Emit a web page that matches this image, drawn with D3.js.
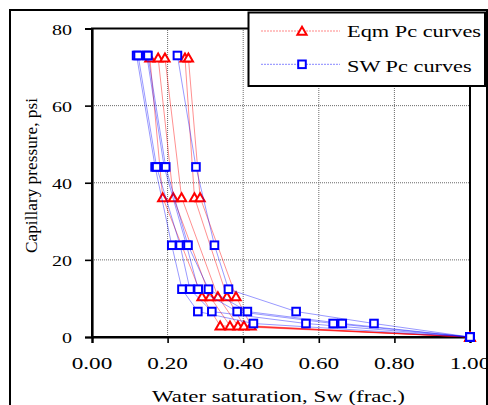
<!DOCTYPE html>
<html>
<head>
<meta charset="utf-8">
<script src="https://cdn.jsdelivr.net/npm/d3@7"></script>
<style>
  html, body { margin: 0; padding: 0; background: #fff; }
  svg { display: block; }
  text { font-family: "Liberation Serif", "Times New Roman", serif; fill: #000; }
</style>
</head>
<body>
<svg id="chart" width="488" height="405"></svg>
<script>
// ---- data ----
const xTicks = [0, 0.2, 0.4, 0.6, 0.8, 1.0];
const yTicks = [0, 20, 40, 60, 80];

// Equilibrium Pc curves (red triangles)
const eqmPc = [72.4, 36.2, 10.5, 2.9, 0];
const eqmCurves = [
  [0.153, 0.187, 0.291, 0.339, 1.0],
  [0.175, 0.215, 0.312, 0.365, 1.0],
  [0.193, 0.237, 0.333, 0.386, 1.0],
  [0.246, 0.271, 0.357, 0.402, 1.0],
  [0.255, 0.286, 0.381, 0.421, 1.0]
];

// SW Pc curves (blue squares)
const swPc = [73.0, 44.1, 23.8, 12.4, 6.6, 3.5, 0];
const swCurves = [
  [0.118, 0.167, 0.211, 0.238, 0.280, 0.427, 1.0],
  [0.122, 0.171, 0.233, 0.259, 0.317, 0.566, 1.0],
  [0.145, 0.191, 0.250, 0.281, 0.384, 0.638, 1.0],
  [0.148, 0.195, 0.254, 0.308, 0.411, 0.662, 1.0],
  [0.226, 0.275, 0.324, 0.361, 0.540, 0.746, 1.0]
];

const legendLabels = ["Eqm Pc curves", "SW Pc curves"];
const xTitle = "Water saturation, Sw (frac.)";
const yTitle = "Capillary pressure, psi";

// ---- drawing ----
const svg = d3.select("#chart");
const x = d3.scaleLinear().domain([0, 1]).range([92, 470]);
const y = d3.scaleLinear().domain([0, 80]).range([337, 28.5]);

// outer chart frame
svg.append("rect").attr("x", 10).attr("y", 10).attr("width", 477).attr("height", 420)
  .attr("fill", "#fff").attr("stroke", "#000").attr("stroke-width", 2);

// gridlines
const grid = svg.append("g");
grid.selectAll(".gx").data(xTicks.filter(d => d > 0 && d < 1)).join("line")
  .attr("x1", d => x(d)).attr("x2", d => x(d)).attr("y1", y(0)).attr("y2", y(80))
  .attr("stroke", "#6a6a6a").attr("stroke-width", 1).attr("stroke-dasharray", "1,1");
grid.selectAll(".gy").data(yTicks.filter(d => d > 0 && d < 80)).join("line")
  .attr("x1", x(0)).attr("x2", x(1)).attr("y1", d => y(d)).attr("y2", d => y(d))
  .attr("stroke", "#6a6a6a").attr("stroke-width", 1).attr("stroke-dasharray", "1,1");

// plot frame (top/right)
svg.append("rect").attr("x", x(0)).attr("y", y(80)).attr("width", x(1) - x(0)).attr("height", y(0) - y(80))
  .attr("fill", "none").attr("stroke", "#000").attr("stroke-width", 2);

// axes
const xAxis = d3.axisBottom(x).tickValues(xTicks).tickSize(6).tickFormat("");
const yAxis = d3.axisLeft(y).tickValues(yTicks).tickSize(7).tickFormat("");
const gx = svg.append("g").attr("transform", `translate(0,${y(0)})`).call(xAxis);
const gy = svg.append("g").attr("transform", `translate(${x(0)},0)`).call(yAxis);
[gx, gy].forEach(g => {
  g.select(".domain").attr("stroke", "#000").attr("stroke-width", 2.2);
  g.selectAll(".tick line").attr("stroke", "#000").attr("stroke-width", 1.6);
});

// tick labels (stretched horizontally like the reference)
svg.append("g").selectAll("text").data(xTicks).join("text")
  .attr("x", d => x(d) - 20.3).attr("y", 369)
  .attr("font-size", 16)
  .attr("textLength", 40.6).attr("lengthAdjust", "spacingAndGlyphs")
  .text(d => d3.format(".2f")(d));
svg.append("g").selectAll("text").data(yTicks).join("text")
  .attr("x", d => 72 - String(d).length * 10).attr("y", d => y(d) + 6)
  .attr("font-size", 15)
  .attr("textLength", d => String(d).length * 10).attr("lengthAdjust", "spacingAndGlyphs")
  .text(d => d);

// axis titles
svg.append("text").attr("x", 278.5 - 126.5).attr("y", 402)
  .attr("font-size", 17).attr("textLength", 253).attr("lengthAdjust", "spacingAndGlyphs")
  .text(xTitle);
svg.append("text").attr("transform", "translate(37,175.5) rotate(-90)")
  .attr("x", -77.5).attr("y", 0)
  .attr("font-size", 17).attr("textLength", 155).attr("lengthAdjust", "spacingAndGlyphs")
  .text(yTitle);

// marker shapes
const triPath = "M0,-4.2L4.6,3.8L-4.6,3.8Z";
const red = "#ff0000", blue = "#0000ff";
const line = d3.line();

// red series
const gRed = svg.append("g");
eqmCurves.forEach(c => {
  gRed.append("path").attr("d", line(c.map((s, i) => [x(s), y(eqmPc[i])])))
    .attr("fill", "none").attr("stroke", red).attr("stroke-width", 0.8).attr("stroke-opacity", 0.55);
});
eqmCurves.forEach(c => {
  gRed.selectAll(null).data(c.map((s, i) => [x(s), y(eqmPc[i])])).join("path")
    .attr("transform", d => `translate(${d[0]},${d[1]})`).attr("d", triPath)
    .attr("fill", "#fff").attr("stroke", red).attr("stroke-width", 2);
});

// blue series
const gBlue = svg.append("g");
swCurves.forEach(c => {
  gBlue.append("path").attr("d", line(c.map((s, i) => [x(s), y(swPc[i])])))
    .attr("fill", "none").attr("stroke", blue).attr("stroke-width", 0.8).attr("stroke-opacity", 0.5);
});
swCurves.forEach(c => {
  gBlue.selectAll(null).data(c.map((s, i) => [x(s), y(swPc[i])])).join("rect")
    .attr("x", d => d[0] - 3.8).attr("y", d => d[1] - 3.8).attr("width", 7.6).attr("height", 7.6)
    .attr("fill", "#fff").attr("stroke", blue).attr("stroke-width", 2);
});

// legend
const lg = svg.append("g");
lg.append("rect").attr("x", 248.5).attr("y", 12.5).attr("width", 236.5).attr("height", 73.5)
  .attr("fill", "#fff").attr("stroke", "#000").attr("stroke-width", 2);
const legY = [31, 64.3];
const legBase = [36.5, 72];
lg.append("line").attr("x1", 261).attr("x2", 340).attr("y1", legY[0]).attr("y2", legY[0])
  .attr("stroke", red).attr("stroke-width", 0.8).attr("stroke-opacity", 0.6).attr("stroke-dasharray", "2,1");
lg.append("path").attr("transform", `translate(302,${legY[0]})`).attr("d", triPath)
  .attr("fill", "#fff").attr("stroke", red).attr("stroke-width", 2);
lg.append("line").attr("x1", 261).attr("x2", 340).attr("y1", legY[1]).attr("y2", legY[1])
  .attr("stroke", blue).attr("stroke-width", 0.8).attr("stroke-opacity", 0.6).attr("stroke-dasharray", "2,1");
lg.append("rect").attr("x", 302 - 3.8).attr("y", legY[1] - 3.8).attr("width", 7.6).attr("height", 7.6)
  .attr("fill", "#fff").attr("stroke", blue).attr("stroke-width", 2);
lg.append("text").attr("x", 347).attr("y", legBase[0]).attr("font-size", 16.5)
  .attr("textLength", 134).attr("lengthAdjust", "spacingAndGlyphs").text(legendLabels[0]);
lg.append("text").attr("x", 347).attr("y", legBase[1]).attr("font-size", 16.5)
  .attr("textLength", 124.7).attr("lengthAdjust", "spacingAndGlyphs").text(legendLabels[1]);
</script>
</body>
</html>
